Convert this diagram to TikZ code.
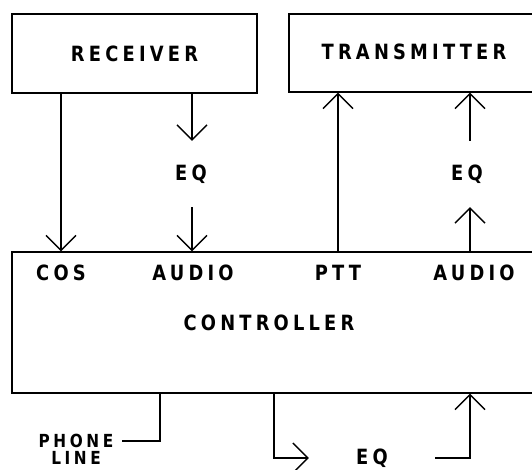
\documentclass[tikz,border=0pt]{standalone}
\usepackage{fontspec}
\usetikzlibrary{positioning, arrows.meta}
\newfontfamily\plotfont[FakeStretch=0.85,LetterSpace=20]{DejaVu Sans}

\begin{document}
\begin{tikzpicture}[x=1pt, y=-1pt, >={Straight Barb[length=15pt, width=30pt]},
        tag/.style={font=\plotfont\bfseries\fontsize{21}{15}\selectfont, inner sep=2pt},
        unit/.style={tag, rectangle, draw=black, line width=1.4pt, inner sep=0pt},
        eq/.style={tag, minimum width=126pt, minimum height=66pt},
        wire/.style={line width=1.4pt},
        arrow/.style={->, wire}]

        \clip (0,0) rectangle (532,469);

        \node[unit, minimum width=245pt, minimum height=79pt] (receiver) at (134.5,53.5) {RECEIVER};
        \node[unit, minimum width=271pt, minimum height=78pt] (transmitter) at (424.5,53) {};
        \node[tag] (transmittername) at (414,52) {TRANSMITTER};
        \node[unit, minimum width=548pt, minimum height=141pt] (controller) at (286,322.5) {};
        \node[tag] (controllername) at (269,323) {CONTROLLER};

        \node[tag] (cos) at (61,273) {COS};
        \node[tag] (audiorx) at (193,273) {AUDIO};
        \node[tag] (ptt) at (338,273) {PTT};
        \node[tag] (audiotx) at (474,273) {AUDIO};

        \node[eq] (eqrx) at (191,174) {EQ};
        \node[eq] (eqtx) at (467,174) {EQ};
        \node[eq] (eqline) at (372,458) {EQ};

        \node[tag, align=center, inner sep=0pt, font=\plotfont\bfseries\fontsize{18}{17}\selectfont] (phone) at (76,449) {PHONE\\LINE};
        \coordinate (tap) at (160,420);
        \coordinate (feed) at (274,420);

        \draw[arrow] (receiver.south -| cos) -- (controller.north -| cos);
        \draw[arrow] (receiver.south -| 192,0) -- (eqrx.north -| 192,0);
        \draw[arrow] (eqrx.south -| 192,0) -- (controller.north -| 192,0);
        \draw[arrow] (controller.north -| ptt) -- (transmitter.south -| ptt);
        \draw[arrow] (controller.north -| 470,0) -- (eqtx.south -| 470,0);
        \draw[arrow] (eqtx.north -| 470,0) -- (transmitter.south -| 470,0);

        \draw[wire] (controller.south -| tap) |- ([xshift=8pt, yshift=8pt]phone.east);
        \draw[arrow] (controller.south -| feed) |- (eqline.west);
        \draw[arrow] (eqline.east) -| (controller.south -| 470,0);
    \end{tikzpicture}
\end{document}
